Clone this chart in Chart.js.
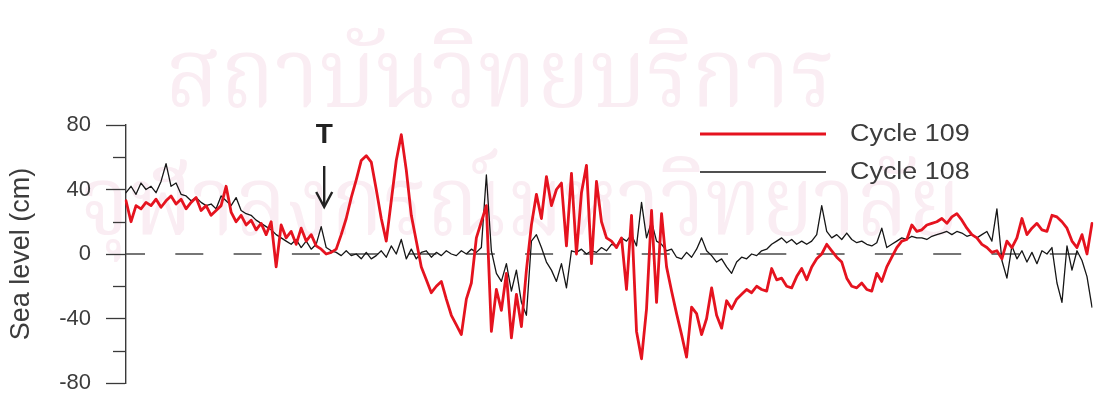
<!DOCTYPE html>
<html>
<head>
<meta charset="utf-8">
<script src="https://cdn.jsdelivr.net/npm/chart.js@4"></script>
<style>
  html, body { margin: 0; padding: 0; background: #fff; }
  #wrap { position: relative; width: 1099px; height: 394px; }
</style>
</head>
<body>
<div id="wrap"><canvas id="c"></canvas></div>
<script>
// Sea level (cm) at each sample, two tidal cycles
const cycle109 = [
  33,20,30,28,32,30,34,29,33,36,
  31,34,28,32,35,27,30,24,27,30,
  42,26,20,24,18,21,15,19,12,20,
  -8,18,10,14,6,16,8,12,5,3,
  0,1,3,12,22,35,46,58,61,57,
  40,22,8,33,58,74,52,24,8,-8,
  -16,-24,-20,-17,-28,-38,-44,-50,-28,-18,
  10,20,30,-48,-22,-35,-12,-52,-25,-45,
  -10,18,37,22,48,30,40,44,5,50,
  0,38,55,-6,45,20,10,8,4,10,
  -22,24,-48,-65,-34,27,-30,25,-8,-23,
  -37,-50,-64,-33,-37,-50,-40,-21,-38,-46,
  -29,-34,-28,-25,-22,-24,-20,-22,-23,-9,
  -16,-15,-20,-21,-14,-9,-16,-8,-3,0,
  6,2,-2,-5,-15,-20,-21,-18,-22,-23,
  -12,-17,-8,-2,4,8,9,18,14,15,
  18,19,20,22,19,23,25,21,16,12,
  10,6,4,1,2,-3,8,4,10,22,
  12,16,19,15,14,24,23,20,16,8,
  4,12,0,19
];
const cycle108 = [
  38,42,37,44,40,42,38,45,56,42,
  44,37,36,33,35,32,30,31,28,36,
  33,30,35,27,25,24,21,19,17,15,
  12,10,8,6,9,4,8,3,6,17,
  4,2,1,-1,2,-1,0,-3,1,-3,
  -1,2,-2,5,0,9,-3,3,-3,1,
  2,-2,1,-1,2,0,-1,2,0,3,
  1,4,49,2,-12,-17,-6,-23,-10,-30,
  -38,8,12,4,-5,-10,-17,-6,-21,2,
  1,3,0,2,1,4,2,6,5,10,
  8,12,5,32,10,20,8,6,2,3,
  -2,-3,1,-2,3,10,2,-1,-5,-3,
  -8,-12,-5,-2,-3,0,-1,2,3,6,
  8,10,7,9,6,8,6,8,12,30,
  14,10,12,9,13,9,7,8,6,5,
  7,16,4,6,8,10,9,11,10,10,
  9,11,12,13,14,12,14,13,11,12,
  10,12,14,8,28,-4,-15,5,-3,2,
  -5,1,-6,2,0,4,-18,-30,5,-10,
  2,-4,-14,-33
];
const sampleIndex = cycle109.map((_, i) => i);
const yTickValues = [-80, -40, 0, 40, 80];
const yMinorTicks = [-60, -20, 20, 60];
const arrival = { label: 'T', sample: 39.6 };
const seriesNames = ['Cycle 109', 'Cycle 108'];
const watermarkLines = ['สถาบันวิทยบริการ', 'จุฬาลงกรณ์มหาวิทยาลัย'];

const RED = '#e5131f';
const BLACK = '#161616';
const AXIS = '#3a3a3a';
const TEXT = '#3c3c3c';
const FONT = '"Liberation Sans", Arial, sans-serif';
const THAI_FONT = '"Noto Serif Thai", "Noto Sans Thai Looped", Loma, Garuda, Norasi, "Noto Sans Thai", sans-serif';

const decorations = {
  id: 'decorations',
  beforeDraw(chart) {
    const ctx = chart.ctx;
    ctx.save();
    ctx.fillStyle = '#fff';
    ctx.fillRect(0, 0, chart.width, chart.height);
    // faint pink watermark
    ctx.fillStyle = '#faedf3';
    ctx.textBaseline = 'alphabetic';
    ctx.textAlign = 'left';
    const wm = [
      { text: watermarkLines[0], x: 165, y: 106, w: 670, size: 96 },
      { text: watermarkLines[1], x: 80, y: 234, w: 880, size: 96 }
    ];
    wm.forEach(l => {
      ctx.font = `${l.size}px ${THAI_FONT}`;
      const m = ctx.measureText(l.text).width;
      ctx.save();
      ctx.translate(l.x, l.y);
      ctx.scale(l.w / m, 1);
      ctx.fillText(l.text, 0, 0);
      ctx.restore();
    });
    ctx.restore();
  },
  beforeDatasetsDraw(chart) {
    const { ctx, chartArea, scales: { y } } = chart;
    const y0 = y.getPixelForValue(0);
    ctx.save();
    ctx.strokeStyle = '#4a4a4a';
    ctx.lineWidth = 1.3;
    ctx.setLineDash([28, 30.3]);
    ctx.lineDashOffset = 9;
    ctx.beginPath();
    ctx.moveTo(chartArea.left, y0);
    ctx.lineTo(chartArea.right, y0);
    ctx.stroke();
    ctx.restore();
  },
  afterDraw(chart) {
    const { ctx, chartArea, scales: { x, y } } = chart;
    ctx.save();
    // minor ticks on the y axis
    ctx.strokeStyle = AXIS;
    ctx.lineWidth = 1.3;
    yMinorTicks.forEach(v => {
      const py = Math.round(y.getPixelForValue(v)) + 0.5;
      ctx.beginPath();
      ctx.moveTo(chartArea.left - 13, py);
      ctx.lineTo(chartArea.left, py);
      ctx.stroke();
    });

    // legend
    const ds = chart.data.datasets;
    const rows = [{ y: 134 }, { y: 172 }];
    rows.forEach((r, i) => {
      ctx.strokeStyle = ds[i].borderColor;
      ctx.lineWidth = ds[i].borderWidth;
      ctx.beginPath();
      ctx.moveTo(700, r.y);
      ctx.lineTo(826, r.y);
      ctx.stroke();
      ctx.save();
      ctx.fillStyle = TEXT;
      ctx.font = `23px ${FONT}`;
      ctx.textBaseline = 'middle';
      ctx.translate(850, r.y + 1);
      ctx.scale(1.17, 1);
      ctx.fillText(ds[i].label, 0, 0);
      ctx.restore();
    });

    // arrival marker
    const ax = x.getPixelForValue(arrival.sample);
    ctx.fillStyle = '#222';
    ctx.font = `bold 28px ${FONT}`;
    ctx.textAlign = 'center';
    ctx.textBaseline = 'middle';
    ctx.fillText(arrival.label, ax, 135);
    ctx.strokeStyle = '#222';
    ctx.lineWidth = 2.4;
    ctx.beginPath();
    ctx.moveTo(ax, 166);
    ctx.lineTo(ax, 206);
    ctx.stroke();
    ctx.beginPath();
    ctx.moveTo(ax - 8, 192);
    ctx.lineTo(ax, 207);
    ctx.lineTo(ax + 8, 192);
    ctx.stroke();
    ctx.restore();
  }
};

new Chart(document.getElementById('c'), {
  type: 'line',
  data: {
    labels: sampleIndex,
    datasets: [
      { label: seriesNames[0], data: cycle109, borderColor: RED, borderWidth: 2.8 },
      { label: seriesNames[1], data: cycle108, borderColor: BLACK, borderWidth: 1.3 }
    ]
  },
  options: {
    responsive: true,
    maintainAspectRatio: false,
    animation: false,
    layout: { padding: { top: 125, right: 7, bottom: 11, left: 0 } },
    elements: {
      point: { radius: 0 },
      line: { tension: 0, borderJoinStyle: 'round', borderCapStyle: 'round' }
    },
    plugins: { legend: { display: false }, tooltip: { enabled: false } },
    scales: {
      x: {
        display: false,
        offset: false,
        ticks: { display: false },
        grid: { display: false },
        border: { display: false }
      },
      y: {
        min: -80,
        max: 80,
        afterBuildTicks: s => { s.ticks = yTickValues.map(v => ({ value: v })); },
        afterFit: s => {
          s.width = 126;
          // the outer labels may overhang the plot; no extra reserve needed
          s.paddingTop = 0;
          s.paddingBottom = 0;
        },
        ticks: { color: TEXT, padding: 15, font: { family: FONT, size: 22 } },
        grid: { drawOnChartArea: false, drawTicks: true, tickLength: 20, tickColor: AXIS, tickWidth: 1.3 },
        border: { display: true, color: AXIS, width: 1.4 },
        title: {
          display: true,
          text: 'Sea level (cm)',
          color: TEXT,
          font: { family: FONT, size: 27 },
          padding: { top: 5, bottom: 0 }
        }
      }
    }
  },
  plugins: [decorations]
});
</script>
</body>
</html>
